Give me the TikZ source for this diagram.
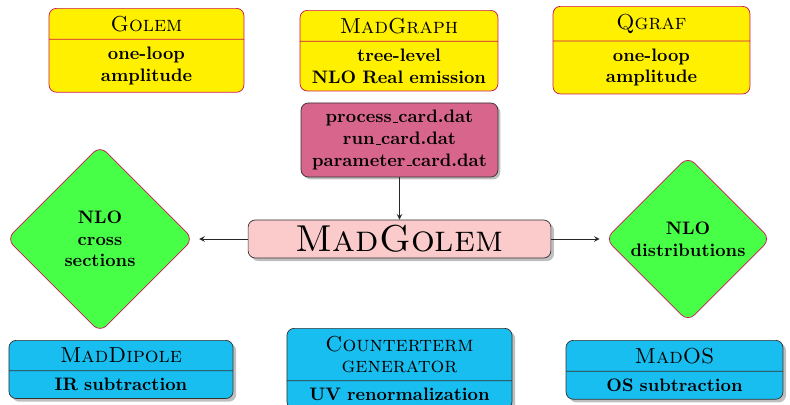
\documentclass[tikz,border=0pt]{standalone}
\usetikzlibrary{shapes.multipart,shapes.geometric,shadows}

\definecolor{toolyellow}{RGB}{255,240,0}
\definecolor{toolred}{RGB}{205,20,85}
\definecolor{cardrose}{RGB}{216,101,140}
\definecolor{corepink}{RGB}{251,203,203}
\definecolor{resgreen}{RGB}{72,255,72}
\definecolor{subblue}{RGB}{25,190,240}

% short underscore bar as in the card names
\newcommand\cardbar{\leavevmode\kern.06em\vbox{\hrule width.3em}}

\tikzset{
  toolbox/.style={rectangle split, rectangle split parts=2, draw=toolred, fill=toolyellow,
    rounded corners=4pt, align=center, inner xsep=0pt, inner ysep=4pt, text width=#1},
  subbox/.style={rectangle split, rectangle split parts=2, draw=black!80, fill=subblue,
    rounded corners=4pt, align=center, inner xsep=0pt, inner ysep=4pt, text width=#1,
    drop shadow={shadow xshift=.4ex, shadow yshift=-.4ex}},
  resdiamond/.style={diamond, aspect=1, draw=toolred, fill=resgreen, rounded corners=5pt,
    inner sep=0pt, minimum size=#1, align=center, font=\bfseries},
  link/.style={-stealth, draw=black!85, thin}
}

\begin{document}
\begin{tikzpicture}[x=0.01945cm, y=-0.01945cm]
  \useasboundingbox (0,0) rectangle (790,404);

  %Tools on top
  \node[toolbox=3.79cm, anchor=north] (golem) at (146.5,8)
    {\large\textsc{Golem}\nodepart{two}\bfseries one-loop\\amplitude};
  \node[toolbox=3.85cm, anchor=north] (madgraph) at (399,10)
    {\large\textsc{MadGraph}\nodepart{two}\bfseries tree-level\\NLO Real emission};
  \node[toolbox=3.83cm, anchor=north] (qgraf) at (651.5,6)
    {\large\textsc{Qgraf}\nodepart{two}\bfseries one-loop\\amplitude};

  %Input cards
  \node[draw=black!80, fill=cardrose, rounded corners=4pt, align=center, font=\bfseries,
    minimum width=3.83cm, minimum height=1.44cm, inner sep=2pt,
    drop shadow={shadow xshift=.3ex, shadow yshift=-.3ex}] (cards) at (399.5,140)
    {process\cardbar card.dat\\run\cardbar card.dat\\parameter\cardbar card.dat};

  %MadGolem
  \node[draw=black!80, fill=corepink, rounded corners=4pt, minimum width=5.89cm,
    minimum height=0.74cm, inner sep=0pt,
    drop shadow={shadow xshift=.4ex, shadow yshift=-.4ex}] (madgolem) at (399.5,239)
    {\huge\textsc{MadGolem}};

  %Results
  \node[resdiamond=3.63cm] (xsec) at (100,239) {NLO\\cross\\sections};
  \node[resdiamond=3.21cm] (distr) at (688,239) {NLO\\distributions};

  \draw[link] (cards) -- (madgolem);
  \draw[link, shorten >=3pt] (madgolem) -- (xsec);
  \draw[link, shorten >=3pt] (madgolem) -- (distr);

  %Subtraction pieces
  \node[subbox=4.36cm, anchor=north] (dipole) at (121,340)
    {\large\textsc{MadDipole}\nodepart{two}\bfseries IR subtraction};
  \node[subbox=4.38cm, anchor=north] (counter) at (399.5,328)
    {\large\textsc{Counterterm}\\\textsc{generator}\nodepart{two}\bfseries UV renormalization};
  \node[subbox=4.22cm, anchor=north] (mados) at (674.5,340)
    {\large\textsc{MadOS}\nodepart{two}\bfseries OS subtraction};
\end{tikzpicture}
\end{document}
